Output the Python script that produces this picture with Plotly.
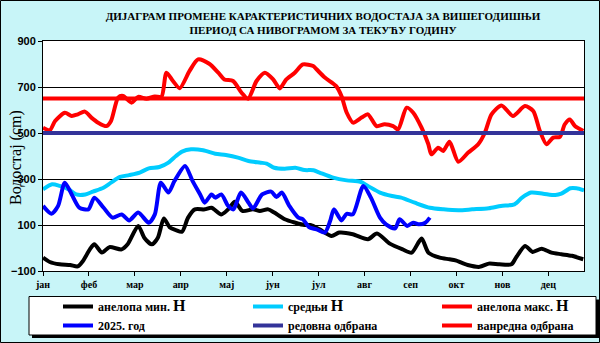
import plotly.graph_objects as go

# ---------------- data (day of year, water level in cm) ----------------
month_labels = ["јан", "феб", "мар", "апр", "мај", "јун", "јул", "авг", "сеп", "окт", "нов", "дец"]
month_start_days = [0, 30.4, 60.8, 91.2, 121.6, 152, 182.4, 212.8, 243.2, 273.6, 304, 334.4]

min_days = [0, 4.5, 11, 18, 23, 26.5, 31, 34, 39, 44, 52, 56, 63, 67, 72, 76, 80, 84, 88, 92, 96,
            100.5, 107, 111.5, 118, 122.5, 127, 132, 139, 143.5, 149, 153, 160, 167, 173, 177, 183,
            191, 196, 205, 215, 221, 229.5, 238, 244, 250.5, 255, 262.5, 269, 273, 281, 289, 295,
            302, 310, 313, 319, 324, 330, 336.5, 343, 350, 357.5]
min_vals = [-42, -61, -71, -74, -80, -56, -6, 16, -20, 4, -6, 16, 96, 45, 16, 45, 128, 89, 78, 71, 132,
            168, 168, 175, 146, 168, 201, 161, 168, 161, 168, 154, 125, 110, 100, 100, 81,
            52, 67, 60, 38, 63, 19, -6, -20, 41, -20, -42, -49, -54, -74, -82, -68,
            -71, -71, -42, 9, -17, -3, -20, -27, -34, -49]

mean_days = [0, 6, 11, 17, 22, 28, 33, 40, 45, 51, 57, 64, 70, 77, 83, 88, 92, 98, 106, 114, 121,
             129, 136, 144, 148, 153, 160, 167, 173, 179, 183, 192, 201, 210, 215, 223, 231, 237,
             246, 256, 265, 275, 284, 295, 303, 312, 317, 323, 331, 339, 343, 349, 353, 358]
mean_vals = [255, 277, 270, 255, 233, 233, 245, 262, 284, 309, 317, 328, 346, 352, 371, 400, 419, 429,
             425, 410, 404, 393, 378, 371, 367, 349, 345, 349, 339, 338, 328, 306, 294, 288, 270, 241,
             226, 219, 197, 175, 168, 164, 168, 173, 183, 190, 219, 241, 236, 230, 236, 260, 260, 251]

max_days = [0, 4.5, 8, 14.5, 19, 23, 27.7, 32, 36.5, 42, 45, 49.7, 53, 58.6, 63, 68.5, 74, 78.4, 81.7,
            86, 90.5, 97, 102.6, 110, 116, 120, 125.8, 131.4, 135.7, 141.3, 146.8, 152.3, 156.7, 161,
            166.6, 172, 178.8, 181, 186.5, 194, 197.5, 201, 205.2, 210.8, 215, 220.7, 226, 231.7, 235,
            240.6, 245, 250.5, 255, 257, 261.5, 264.8, 269, 274.8, 281.4, 288, 292.4, 296.8, 303.4,
            311, 318.9, 324.4, 328.8, 333.2, 337.6, 342, 345.3, 348.6, 352, 357.5]
max_vals = [523, 512, 552, 588, 574, 581, 593, 567, 545, 530, 552, 654, 661, 632, 657, 649, 659, 657, 762,
            726, 695, 770, 820, 801, 762, 733, 726, 675, 649, 726, 762, 733, 694, 733,
            762, 798, 791, 777, 741, 704, 661, 588, 545, 567, 581, 530, 538, 530, 516,
            610, 588, 523, 451, 407, 436, 422, 462, 375, 415, 451, 501, 581, 620,
            574, 617, 596, 509, 451, 480, 483, 538, 559, 530, 509]

cur_days = [0, 5.6, 10, 14.4, 19, 24, 30, 34, 40, 46, 52, 57, 63, 70, 74, 78, 83, 87, 94, 99, 104, 107,
            111.5, 114, 118, 122.5, 126, 131, 136, 139, 145, 151, 154.5, 158, 163, 169, 172, 176,
            181, 186.5, 190, 192.5, 197.5, 201, 205, 212, 217, 223, 227, 233, 236, 241, 245, 249,
            253, 256]
cur_vals = [183, 149, 183, 284, 233, 176, 168, 219, 176, 132, 146, 120, 154, 110, 146, 284, 241, 291, 357,
            291, 233, 197, 233, 219, 233, 183, 168, 241, 197, 172, 233, 245, 222, 241, 183, 132, 125, 91,
            81, 67, 117, 168, 120, 149, 146, 270, 219, 132, 103, 85, 125, 96, 110, 103, 110, 132]

regular_defense = 500
emergency_defense = 650
x_extent = [0, 358]

names = ["анелопа мин. <span style='font-size:16px'>H</span>",
         "средњи <span style='font-size:16px'>H</span>",
         "анелопа макс. <span style='font-size:16px'>H</span>",
         "2025. год",
         "редовна одбрана",
         "ванредна одбрана"]

# ---------------- layout helpers ----------------
W, H = 600, 343
ML, MR, MT, MB = 43, 16, 41, 72
PW, PH = W - ML - MR, H - MT - MB


def px_x(px):
    return (px - ML) / PW


def px_y(py):
    return (H - MB - py) / PH


fig = go.Figure()
series = [
    (min_days, min_vals, "#000000", "legend"),
    (mean_days, mean_vals, "#00ccff", "legend2"),
    (max_days, max_vals, "#ff0000", "legend3"),
    (cur_days, cur_vals, "#0000ff", "legend"),
]
for i, (xs, ys, col, lg) in enumerate(series):
    fig.add_trace(go.Scatter(x=xs, y=ys, mode="lines", name=names[i], legend=lg,
                             line=dict(color=col, width=4, shape="spline", smoothing=0.7)))
fig.add_trace(go.Scatter(x=x_extent, y=[regular_defense] * 2, mode="lines", name=names[4],
                         legend="legend2", line=dict(color="#333399", width=4)))
fig.add_trace(go.Scatter(x=x_extent, y=[emergency_defense] * 2, mode="lines", name=names[5],
                         legend="legend3", line=dict(color="#ff0000", width=4)))

legend_font = dict(family="Liberation Serif", size=12, color="#000000", weight="bold")
leg_common = dict(bgcolor="rgba(0,0,0,0)", borderwidth=0, font=legend_font, yanchor="top",
                  xanchor="left", orientation="v", tracegroupgap=0, itemwidth=30)
leg_top = px_y(292)
fig.update_layout(
    legend=dict(x=px_x(58), y=leg_top, **leg_common),
    legend2=dict(x=px_x(248), y=leg_top, **leg_common),
    legend3=dict(x=px_x(437), y=leg_top, **leg_common),
)

fig.update_layout(
    width=W, height=H,
    margin=dict(l=ML, r=MR, t=MT, b=MB, pad=0, autoexpand=False),
    paper_bgcolor="#c8f5f8",
    plot_bgcolor="#ffffff",
    showlegend=True,
    title=dict(text="ДИЈАГРАМ ПРОМЕНЕ КАРАКТЕРИСТИЧНИХ ВОДОСТАЈА ЗА ВИШЕГОДИШЊИ<br>ПЕРИОД СА НИВОГРАМОМ ЗА ТЕКУЋУ ГОДИНУ",
               x=323 / W, xanchor="center", xref="container",
               y=1 - 20 / H, yanchor="middle", yref="container",
               font=dict(family="Liberation Serif", size=11, color="#000000", weight="bold")),
    xaxis=dict(range=x_extent, tickmode="array", tickvals=month_start_days, ticktext=month_labels,
               showgrid=False, zeroline=False, showline=True, linecolor="#000000", linewidth=1,
               mirror=True, ticks="outside", ticklen=4, tickcolor="#000000",
               tickfont=dict(family="Liberation Serif", size=10, color="#000000", weight="bold")),
    yaxis=dict(range=[-100, 900], tickmode="linear", tick0=-100, dtick=200,
               showgrid=True, gridcolor="#000000", gridwidth=1, zeroline=False,
               showline=True, linecolor="#000000", linewidth=1, mirror=True,
               ticks="outside", ticklen=4, tickcolor="#000000",
               tickfont=dict(family="Liberation Sans", size=11, color="#000000", weight="bold")),
)

fig.add_annotation(text="Водостај (cm)", textangle=-90, showarrow=False,
                   xref="paper", yref="paper", x=px_x(16), y=px_y(158),
                   xanchor="center", yanchor="middle",
                   font=dict(family="Liberation Serif", size=16, color="#000000"))

# legend frame with shadow, and outer frame
fig.add_shape(type="rect", xref="paper", yref="paper", layer="above",
              x0=px_x(32), x1=px_x(599), y0=px_y(299.5), y1=px_y(338),
              fillcolor="#000000", line=dict(width=0))
fig.add_shape(type="rect", xref="paper", yref="paper", layer="above",
              x0=px_x(29), x1=px_x(596), y0=px_y(296.5), y1=px_y(335),
              fillcolor="#ffffff", line=dict(color="#000000", width=1))
fig.add_shape(type="rect", xref="paper", yref="paper", layer="above",
              x0=px_x(0.5), x1=px_x(599.5), y0=px_y(0.5), y1=px_y(342.5),
              fillcolor="rgba(0,0,0,0)", line=dict(color="#000000", width=1))

fig.write_html("out.html")
